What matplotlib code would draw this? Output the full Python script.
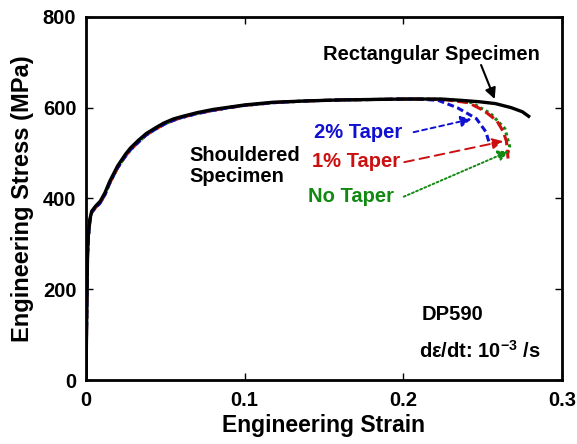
import matplotlib
matplotlib.use("Agg")
import matplotlib.pyplot as plt

plt.rcParams['font.family'] = ['Liberation Sans', 'DejaVu Sans']
plt.rcParams['font.weight'] = 'bold'
plt.rcParams['mathtext.fontset'] = 'custom'
plt.rcParams['mathtext.rm'] = 'Liberation Sans:bold'
plt.rcParams['mathtext.bf'] = 'Liberation Sans:bold'
plt.rcParams['mathtext.default'] = 'rm'

# Rectangular specimen (black)
rect_strain = [0.0, 0.0005, 0.001, 0.0015, 0.0025, 0.0036, 0.006, 0.009, 0.012, 0.015,
               0.02, 0.025, 0.028, 0.033, 0.038, 0.044, 0.049, 0.055, 0.06, 0.07,
               0.08, 0.09, 0.10, 0.118, 0.14, 0.16, 0.18, 0.20, 0.224, 0.237,
               0.248, 0.258, 0.268, 0.275, 0.279]
rect_stress = [0, 150, 280, 320, 355, 372, 383, 394, 413, 438,
               472, 498, 511, 528, 543, 556, 566, 575, 580, 589,
               596, 601, 606, 612, 615, 617, 618, 619, 619, 616,
               613, 609, 600, 591, 581]

# Shouldered specimens, common hardening part
sh_strain = [0.0, 0.0005, 0.001, 0.0015, 0.0025, 0.0036, 0.006, 0.009, 0.012, 0.015,
             0.02, 0.025, 0.028, 0.033, 0.038, 0.044, 0.049, 0.055, 0.06, 0.07,
             0.08, 0.09, 0.10, 0.118, 0.14, 0.16, 0.18, 0.20, 0.21]
sh_stress = [0, 145, 275, 316, 351, 369, 380, 390, 409, 434,
             468, 494, 507, 524, 540, 553, 563, 572, 578, 587,
             594, 600, 605, 611, 615, 617, 618, 619, 619]

taper2_strain = sh_strain + [0.222, 0.234, 0.246, 0.252, 0.254]
taper2_stress = sh_stress + [616, 600, 576, 547, 524]

taper1_strain = sh_strain + [0.225, 0.241, 0.251, 0.259, 0.263, 0.265, 0.266]
taper1_stress = sh_stress + [618, 611, 593, 571, 547, 526, 488]

notaper_strain = sh_strain + [0.228, 0.243, 0.255, 0.264, 0.267, 0.266]
notaper_stress = sh_stress + [618, 611, 587, 554, 515, 500]

BLUE = '#1010d0'
RED = '#cc1010'
GREEN = '#128a12'

fig = plt.figure(figsize=(5.77, 4.44), dpi=100)
ax = fig.add_axes([0.149, 0.144, 0.825, 0.818])

ax.plot(notaper_strain, notaper_stress, color=GREEN, lw=2.2, ls=(0, (1, 1)))
ax.plot(taper1_strain, taper1_stress, color=RED, lw=2.2, ls=(0, (3.5, 1.5)))
ax.plot(taper2_strain, taper2_stress, color=BLUE, lw=2.2, ls=(0, (2.2, 1.2)))
ax.plot(rect_strain, rect_stress, color='black', lw=2.4)

ax.set_xlim(0, 0.3)
ax.set_ylim(0, 800)
ax.set_xticks([0, 0.1, 0.2, 0.3])
ax.set_xticklabels(['0', '0.1', '0.2', '0.3'])
ax.set_yticks([0, 200, 400, 600, 800])
ax.tick_params(direction='in', top=True, right=True, length=5, width=1,
               labelsize=14.5)
ax.tick_params(axis='y', pad=7)
ax.tick_params(axis='x', pad=8)
for lab in ax.get_xticklabels() + ax.get_yticklabels():
    lab.set_fontweight('bold')
for s in ax.spines.values():
    s.set_linewidth(2)

ax.set_xlabel('Engineering Strain', fontsize=16.5, fontweight='bold', labelpad=3)
ax.set_ylabel('Engineering Stress (MPa)', fontsize=17, fontweight='bold', labelpad=6)

FS = 14.5
# Rectangular specimen label and arrow
ax.text(0.218, 718, 'Rectangular Specimen', ha='center', va='center', fontsize=FS,
        fontweight='bold')
ax.annotate('', xy=(0.2576, 619), xytext=(0.249, 694),
            arrowprops=dict(arrowstyle='-|>', color='black', lw=1.5,
                            shrinkA=0, shrinkB=0, mutation_scale=16))

ax.text(0.1715, 546, '2% Taper', ha='center', va='center', fontsize=FS,
        fontweight='bold', color=BLUE)
ax.annotate('', xy=(0.243, 575), xytext=(0.2065, 546),
            arrowprops=dict(arrowstyle='-|>', color=BLUE, lw=1.4, ls=(0, (2.5, 2)),
                            shrinkA=0, shrinkB=0, mutation_scale=16))

ax.text(0.170, 482, '1% Taper', ha='center', va='center', fontsize=FS,
        fontweight='bold', color=RED)
ax.annotate('', xy=(0.263, 526), xytext=(0.2006, 480),
            arrowprops=dict(arrowstyle='-|>', color=RED, lw=1.4, ls=(0, (5, 3)),
                            shrinkA=0, shrinkB=0, mutation_scale=16))

ax.text(0.167, 404, 'No Taper', ha='center', va='center', fontsize=FS,
        fontweight='bold', color=GREEN)
ax.annotate('', xy=(0.2665, 504), xytext=(0.2003, 404),
            arrowprops=dict(arrowstyle='-|>', color=GREEN, lw=1.4, ls=(0, (1, 1.3)),
                            shrinkA=0, shrinkB=0, mutation_scale=16))

ax.text(0.065, 472, 'Shouldered\nSpecimen', ha='left', va='center', fontsize=FS,
        fontweight='bold', linespacing=1.1)
ax.text(0.2114, 145, 'DP590', ha='left', va='center', fontsize=FS, fontweight='bold')
ax.text(0.210, 64, 'd\u03b5/dt: 10$^{-3}$ /s', ha='left', va='center',
        fontsize=FS, fontweight='bold')

fig.savefig('out.png', dpi=100)
